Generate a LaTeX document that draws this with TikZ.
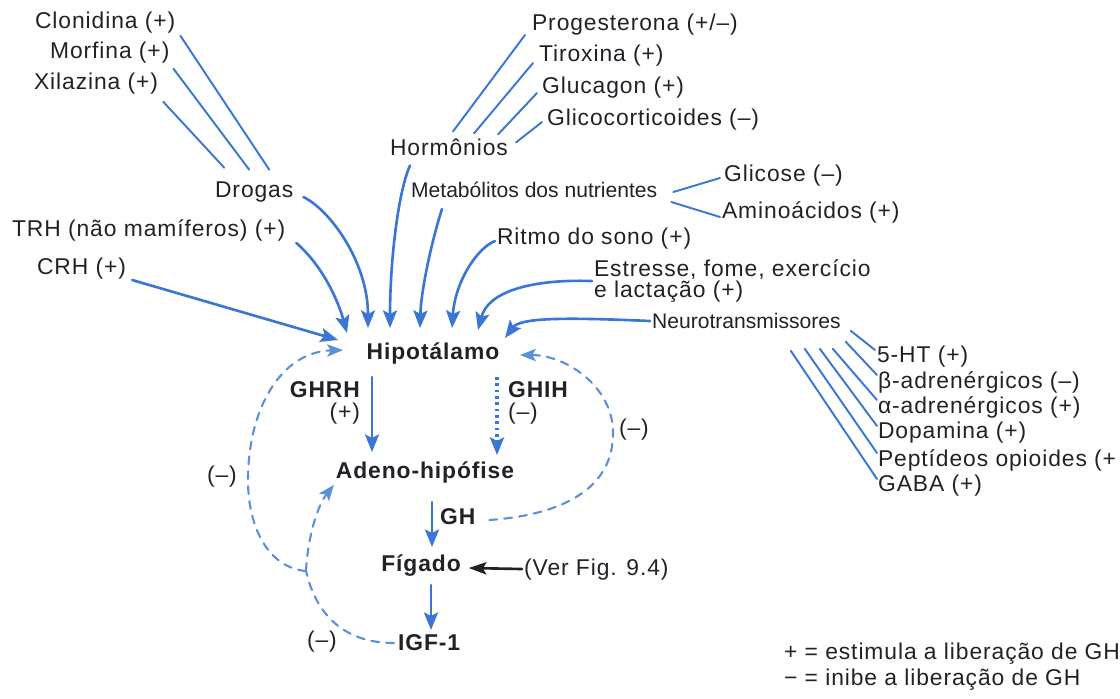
\documentclass[tikz,border=0pt]{standalone}
\usepackage{fontspec}
\setmainfont{Liberation Sans}[LetterSpace=4]
\newfontfamily\narrowfont{Liberation Sans}
\usetikzlibrary{arrows.meta}
\definecolor{fluxo}{RGB}{58,118,212}
\definecolor{retro}{RGB}{90,145,218}
\definecolor{texto}{RGB}{35,33,40}
\tikzset{
	rot/.style={inner sep=1pt, text=texto, anchor=west},
	chave/.style={inner sep=1pt, text=texto, font=\bfseries\fontsize{13}{15}\selectfont},
	estreito/.style={font=\narrowfont\fontsize{12}{13}\selectfont},
	ramo/.style={fluxo, line width=1.1pt},
	seta/.style={fluxo, line width=1.5pt, -{Stealth[length=10pt,width=8pt,inset=2pt]}},
	tracejado/.style={retro, line width=1.2pt, dash pattern=on 4.5pt off 4pt},
	retroalim/.style={tracejado, -{Stealth[length=9pt,width=7pt,inset=2pt]}},
}
\begin{document}
\begin{tikzpicture}[x=0.02cm, y=-0.02cm, font=\fontsize{13}{14}\selectfont, line join=round, line cap=round]
	\useasboundingbox (0,0) rectangle (1120,698);
	% drogas e fatores da esquerda
	\node[rot] (clon) at (33,23) {Clonidina (+)};
	\node[rot] (morf) at (48,53) {Morfina (+)};
	\node[rot] (xila) at (32,84) {Xilazina (+)};
	\node[rot] (drog) at (213,192) {Drogas};
	\node[rot] (trh) at (10,230) {TRH (não mamíferos) (+)};
	\node[rot] (crh) at (35,269) {CRH (+)};
	% hormonios
	\node[rot] (prog) at (530,25) {Progesterona (+/–)};
	\node[rot] (tiro) at (537,56) {Tiroxina (+)};
	\node[rot] (gluc) at (540,88) {Glucagon (+)};
	\node[rot] (glic) at (545,120) {Glicocorticoides (–)};
	\node[rot] (horm) at (388,147) {Hormônios};
	\node[rot, estreito] (meta) at (409,190) {Metabólitos dos nutrientes};
	\node[rot] (glico) at (722,176) {Glicose (–)};
	\node[rot] (amino) at (720,212) {Aminoácidos (+)};
	\node[rot] (ritmo) at (495,239) {Ritmo do sono (+)};
	\node[rot, align=left, font=\fontsize{13}{12.5}\selectfont] (estr) at (592,281) {Estresse, fome, exercício\\e lactação (+)};
	\node[rot, estreito] (neuro) at (650,321) {Neurotransmissores};
	% neurotransmissores
	\node[rot] (ht) at (875,357) {5-HT (+)};
	\node[rot] (beta) at (876,382) {β-adrenérgicos (–)};
	\node[rot] (alfa) at (876,407) {α-adrenérgicos (+)};
	\node[rot] (dopa) at (876,433) {Dopamina (+)};
	\node[rot] (pept) at (876,460) {Peptídeos opioides (+};
	\node[rot] (gaba) at (876,486) {GABA (+)};
	% eixo
	\node[chave] (hipo) at (433,353) {Hipotálamo};
	\node[chave, anchor=east] (ghrh) at (362,390) {GHRH};
	\node[rot, anchor=east] (ghrhmais) at (362,414) {(+)};
	\node[chave, anchor=west] (ghih) at (506,390) {GHIH};
	\node[rot] (ghihmenos) at (506,414) {(–)};
	\node[chave] (adeno) at (425,472) {Adeno-hipófise};
	\node[chave, anchor=west] (gh) at (438,517) {GH};
	\node[chave] (figado) at (421,566) {Fígado};
	\node[rot] (ver) at (522,570) {(Ver Fig. 9.4)};
	\node[chave, anchor=west] (igf) at (396,643) {IGF-1};
	\node[rot] (menosesq) at (205,477) {(–)};
	\node[rot] (menosdir) at (617,430) {(–)};
	\node[rot] (menosbaixo) at (305,642) {(–)};
	\node[rot] (legmais) at (782,654) {+ = estimula a liberação de GH};
	\node[rot] (legmenos) at (782,680) {− = inibe a liberação de GH};

	\draw[ramo] ([shift={(3,0)}]clon.south east) -- ([shift={(15,-10)}]drog.north);
	\draw[ramo] ([shift={(2,3)}]morf.south east) -- ([shift={(-5,-10)}]drog.north);
	\draw[ramo] ([shift={(3,5)}]xila.south east) -- ([shift={(-30,-12)}]drog.north);
	\draw[ramo] ([shift={(-5,10)}]prog.west) -- ([shift={(4,-5)}]horm.north);
	\draw[ramo] ([shift={(-4,7)}]tiro.west) -- ([shift={(25,-3)}]horm.north);
	\draw[ramo] ([shift={(-3,5)}]gluc.west) -- ([shift={(49,-2)}]horm.north);
	\draw[ramo] ([shift={(-3,2)}]glic.west) -- ([shift={(67,6)}]horm.north);
	\draw[ramo] ([shift={(14,2)}]meta.east) -- ([shift={(-2,2)}]glico.west);
	\draw[ramo] ([shift={(12,12)}]meta.east) -- ([shift={(0,5)}]amino.west);
	\draw[ramo] ([shift={(8,0)}]neuro.south east) -- ([shift={(0,-7)}]ht.west);
	\draw[ramo] ([shift={(3,11)}]neuro.south east) -- ([shift={(1,-7)}]beta.west);
	\draw[ramo] ([shift={(-10,18)}]neuro.south east) -- ([shift={(1,-7)}]alfa.west);
	\draw[ramo] ([shift={(-23,18)}]neuro.south east) -- ([shift={(1,-7)}]dopa.west);
	\draw[ramo] ([shift={(-38,18)}]neuro.south east) -- ([shift={(1,-7)}]pept.west);
	\draw[ramo] ([shift={(-52,20)}]neuro.south east) -- ([shift={(1,-7)}]gaba.west);

	% setas para o hipotalamo
	\draw[seta] ([shift={(4,11)}]crh.east) -- ([shift={(-95,-13)}]hipo.center);
	\draw[seta] ([shift={(9,13)}]trh.east) .. controls (322,265) and (338,300) .. ([shift={(-86,-20)}]hipo.center);
	\draw[seta] ([shift={(8,5)}]drog.east) .. controls (330,210) and (368,262) .. ([shift={(-65,-25)}]hipo.center);
	\draw[seta] ([shift={(22,8)}]horm.south west) .. controls (398,192) and (390,262) .. ([shift={(-43,-25)}]hipo.center);
	\draw[seta] ([shift={(33,9)}]meta.south west) .. controls (432,240) and (421,290) .. ([shift={(-13,-25)}]hipo.center);
	\draw[seta] ([shift={(0,2)}]ritmo.west) .. controls (477,248) and (455,282) .. ([shift={(19,-25)}]hipo.center);
	\draw[seta] (estr.west) .. controls (530,279) and (488,292) .. ([shift={(45,-23)}]hipo.center);
	\draw[seta] (neuro.west) .. controls (560,317) and (520,318) .. ([shift={(72,-15)}]hipo.center);

	\draw[seta] ([shift={(-61,24)}]hipo.center) -- ([shift={(-53,-20)}]adeno.center);
	\draw[seta, line cap=butt, line width=1.9pt, dash pattern=on 1.6pt off 2pt] ([shift={(64,24)}]hipo.center) -- ([shift={(72,-17)}]adeno.center);
	\draw[seta] ([shift={(7,30)}]adeno.center) -- ([shift={(11,-19)}]figado.center);
	\draw[seta] ([shift={(10,19)}]figado.center) -- ([shift={(35,-13)}]igf.west);
	\draw[texto, line width=1.5pt, -{Stealth[length=10pt,width=7pt,inset=2pt]}] ([shift={(0,-1)}]ver.west) -- ([shift={(6,2)}]figado.east);

	% retroalimentacao
	\coordinate (ramif) at (306,571);
	\draw[retroalim] ([shift={(12,3)}]gh.east) .. controls (560,515) and (615,490) .. (613,430) .. controls (611,385) and (565,355) .. ([shift={(87,2)}]hipo.center);
	\draw[tracejado] ([shift={(-2,0)}]igf.west) .. controls (340,643) and (315,610) .. (ramif);
	\draw[retroalim] (ramif) .. controls (270,568) and (248,530) .. (248,480) .. controls (248,410) and (280,352) .. ([shift={(-90,-3)}]hipo.center);
	\draw[retroalim] (ramif) .. controls (308,535) and (318,505) .. (adeno.south west);
\end{tikzpicture}
\end{document}
